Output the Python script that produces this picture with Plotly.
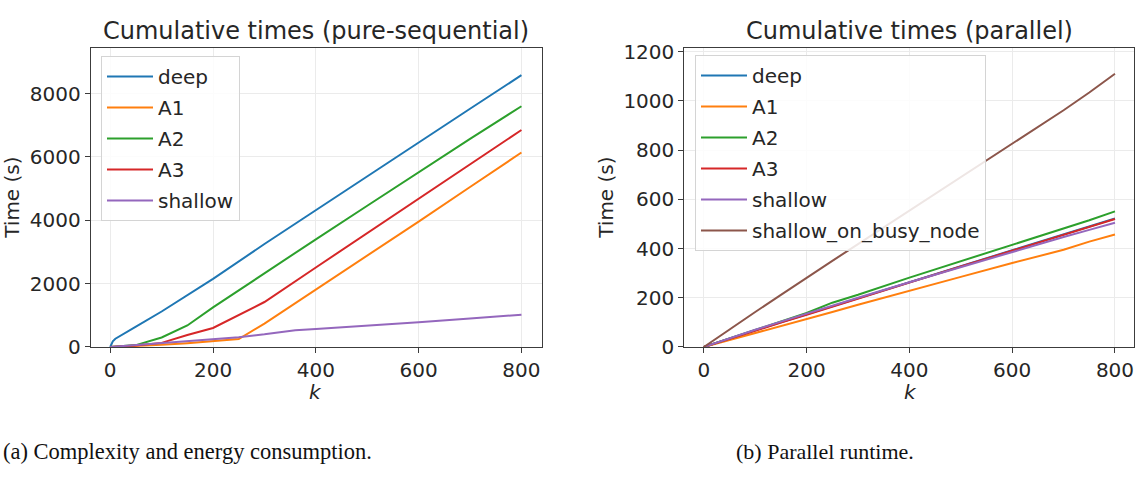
import plotly.graph_objects as go

# ---------------- data: pure-sequential ----------------
seq_deep_k = [0, 5, 10, 20, 50, 100, 200, 300, 400, 500, 600, 700, 800]
seq_deep_t = [0, 180, 260, 360, 640, 1120, 2150, 3250, 4320, 5400, 6450, 7520, 8580]

seq_a1_k = [0, 50, 100, 150, 200, 250, 300, 400, 500, 600, 700, 800]
seq_a1_t = [0, 30, 70, 120, 180, 250, 740, 1810, 2880, 3960, 5050, 6140]

seq_a2_k = [0, 50, 100, 150, 200, 300, 400, 500, 600, 700, 800]
seq_a2_t = [0, 60, 300, 680, 1250, 2330, 3400, 4460, 5520, 6570, 7600]

seq_a3_k = [0, 50, 100, 150, 200, 250, 300, 400, 500, 600, 700, 800]
seq_a3_t = [0, 50, 130, 380, 600, 1020, 1420, 2510, 3600, 4680, 5770, 6850]

seq_sh_k = [0, 50, 100, 150, 200, 250, 300, 360, 400, 500, 600, 700, 800]
seq_sh_t = [0, 60, 120, 180, 250, 310, 400, 530, 570, 670, 780, 900, 1020]

# ---------------- data: parallel ----------------
par_k = [0, 50, 100, 150, 200, 250, 300, 400, 500, 600, 700, 750, 800]
par_deep = [0, 35, 68, 100, 133, 165, 198, 263, 328, 393, 458, 490, 522]
par_a1 = [0, 28, 56, 85, 113, 142, 172, 230, 285, 341, 395, 428, 457]
par_a2 = [0, 35, 68, 102, 138, 180, 212, 282, 348, 413, 480, 515, 551]
par_a3 = [0, 34, 67, 99, 131, 163, 196, 262, 327, 392, 457, 488, 520]
par_sh = [0, 36, 70, 103, 136, 167, 200, 263, 325, 388, 447, 476, 505]

busy_k = [0, 50, 100, 150, 200, 250, 300, 350, 400, 450, 500, 550, 600, 650, 700, 750, 800]
busy_t = [0, 72, 142, 212, 282, 350, 418, 486, 554, 622, 690, 758, 826, 893, 962, 1034, 1110]

names = ["deep", "A1", "A2", "A3", "shallow", "shallow_on_busy_node"]
colors = ["#1f77b4", "#ff7f0e", "#2ca02c", "#d62728", "#9467bd", "#8c564b"]

xticks = [0, 200, 400, 600, 800]
seq_yticks = [0, 2000, 4000, 6000, 8000]
par_yticks = [0, 200, 400, 600, 800, 1000, 1200]

titles = ["Cumulative times (pure-sequential)", "Cumulative times (parallel)"]
captions = ["(a) Complexity and energy consumption.", "(b) Parallel runtime."]

FONT = "DejaVu Sans"
W, H = 1140, 481

fig = go.Figure()

seq_series = [(seq_deep_k, seq_deep_t), (seq_a1_k, seq_a1_t), (seq_a2_k, seq_a2_t),
              (seq_a3_k, seq_a3_t), (seq_sh_k, seq_sh_t)]
for i, (kk, tt) in enumerate(seq_series):
    fig.add_trace(go.Scatter(x=kk, y=tt, mode="lines", name=names[i],
                             line=dict(color=colors[i], width=2),
                             xaxis="x", yaxis="y", legend="legend",
                             legendgroup="s%d" % i))

par_series = [par_deep, par_a1, par_a2, par_a3, par_sh]
for i, tt in enumerate(par_series):
    fig.add_trace(go.Scatter(x=par_k, y=tt, mode="lines", name=names[i],
                             line=dict(color=colors[i], width=2),
                             xaxis="x2", yaxis="y2", legend="legend2",
                             legendgroup="p%d" % i))
fig.add_trace(go.Scatter(x=busy_k, y=busy_t, mode="lines", name=names[5],
                         line=dict(color=colors[5], width=2),
                         xaxis="x2", yaxis="y2", legend="legend2",
                         legendgroup="p5"))


def px_x(v):
    return v / W


def px_y(v):
    return 1 - v / H


ybot, ytop = px_y(353.7), px_y(41.7)

axis_common = dict(showline=True, mirror=True, linecolor="#3c3c3c", linewidth=1,
                   ticks="outside", ticklen=5, tickwidth=1, tickcolor="#3c3c3c",
                   showgrid=True, gridcolor="#ebebeb", gridwidth=1, zeroline=False,
                   tickfont=dict(family=FONT, size=20, color="#262626"))

legend_common = dict(xanchor="left", yanchor="top",
                     bgcolor="rgba(255,255,255,0.85)", bordercolor="#d4d4d4", borderwidth=1,
                     font=dict(family=FONT, size=20, color="#262626"),
                     tracegroupgap=2, itemwidth=46)

fig.update_layout(
    width=W, height=H, margin=dict(l=0, r=0, t=0, b=0),
    paper_bgcolor="white", plot_bgcolor="white", showlegend=True,
    xaxis=dict(domain=[px_x(90.7), px_x(542)], range=[-38, 840], anchor="y",
               tickvals=xticks, **axis_common),
    yaxis=dict(domain=[ybot, ytop], range=[0, 9440], anchor="x",
               tickvals=seq_yticks, **axis_common),
    xaxis2=dict(domain=[px_x(684.3), px_x(1134)], range=[-38, 837], anchor="y2",
                tickvals=xticks, **axis_common),
    yaxis2=dict(domain=[ybot, ytop], range=[0, 1215], anchor="x2",
                tickvals=par_yticks, **axis_common),
    legend=dict(x=px_x(101), y=px_y(50), **legend_common),
    legend2=dict(x=px_x(695), y=px_y(49), **legend_common),
)


def label(text, xc, yc, size, family=FONT, angle=0, color="#262626",
          xanchor="center", yanchor="middle"):
    return dict(text=text, x=px_x(xc), y=px_y(yc), xref="paper", yref="paper",
                xanchor=xanchor, yanchor=yanchor, showarrow=False, textangle=angle,
                borderpad=0,
                font=dict(family=family, size=size, color=color))


ann = [
    label(titles[0], 316, 24, 24),
    label(titles[1], 909, 24, 24),
    label("Time (s)", 12, 198, 20, angle=-90),
    label("Time (s)", 606, 198, 20, angle=-90),
    label("<i>k</i>", 316, 387, 20, yanchor="top"),
    label("<i>k</i>", 910, 387, 20, yanchor="top"),
    label(captions[0], 2, 463, 22.5, family="Liberation Serif", color="#111111", xanchor="left"),
    label(captions[1], 735, 463, 22, family="Liberation Serif", color="#111111", xanchor="left"),
]
fig.update_layout(annotations=ann)

fig.write_html("out.html")
